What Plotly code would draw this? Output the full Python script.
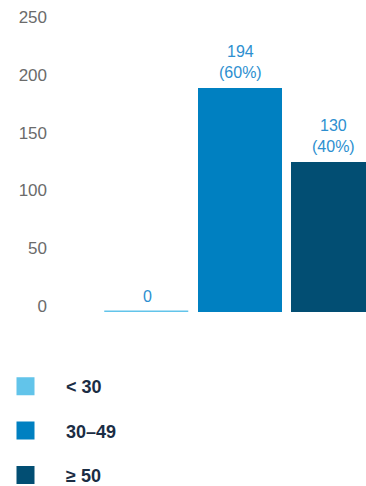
import plotly.graph_objects as go

# Age groups and respondent counts
groups = ["< 30", "30–49", "≥ 50"]
counts = [0, 194, 130]
shares = ["", "60%", "40%"]
colors = ["#62C4EA", "#0080C1", "#024E73"]

y_ticks = [0, 50, 100, 150, 200, 250]

W, H = 366, 486
left, top, bottom = 52, 23, 174
plot_w = W - left

bar_labels = [f"{c}" if not s else f"{c}<br>({s})" for c, s in zip(counts, shares)]

fig = go.Figure()

# one bar per group, sharing the category axis
for g, c, col in zip(groups, counts, colors):
    fig.add_trace(go.Bar(
        x=[g], y=[c], name=g,
        marker=dict(color=col, line=dict(color=col, width=1.5 if c == 0 else 0)),
        width=0.9,
        legendgroup=g,
        showlegend=False,
        hoverinfo="skip",
    ))

# value labels sitting just above each bar
for g, c, lab in zip(groups, counts, bar_labels):
    fig.add_annotation(
        x=g, y=c, xref="x", yref="y", text=lab, showarrow=False,
        xanchor="center", yanchor="bottom", yshift=5,
        font=dict(color="#2D8FD0", size=16, family="Liberation Sans"),
    )

# legend entries drawn as square markers
for g, col in zip(groups, colors):
    fig.add_trace(go.Scatter(
        x=[None], y=[None], mode="markers", name=g,
        marker=dict(symbol="square", size=16, color=col,
                    line=dict(color=col, width=2)),
        legendgroup=g, showlegend=True,
    ))

px_per_unit = 93
x0 = -(147 - left) / px_per_unit
x1 = x0 + plot_w / px_per_unit

fig.update_layout(
    width=W, height=H,
    margin=dict(l=left, r=0, t=top, b=bottom, pad=0, autoexpand=False),
    paper_bgcolor="white", plot_bgcolor="white",
    barmode="overlay",
    bargap=0,
    font=dict(family="Liberation Sans", size=15, color="#666666"),
    xaxis=dict(
        type="category", categoryorder="array", categoryarray=groups,
        range=[x0, x1], showticklabels=False, showgrid=False,
        zeroline=False, showline=False, ticks="",
    ),
    yaxis=dict(
        range=[0, 250], tickvals=y_ticks, showgrid=False, zeroline=False,
        showline=False, ticks="", ticklabelshift=-6, ticklabelstandoff=4,
        tickfont=dict(size=17, color="#6B6B6B"),
    ),
    legend=dict(
        xref="container", yref="container",
        x=0, y=1 - 368 / H, xanchor="left", yanchor="top",
        orientation="v", itemwidth=71, indentation=-15, tracegroupgap=18,
        font=dict(size=18, color="#1B2D44", family="Liberation Sans",
                  weight="bold"),
        bgcolor="rgba(0,0,0,0)",
    ),
)

fig.write_html("out.html")
